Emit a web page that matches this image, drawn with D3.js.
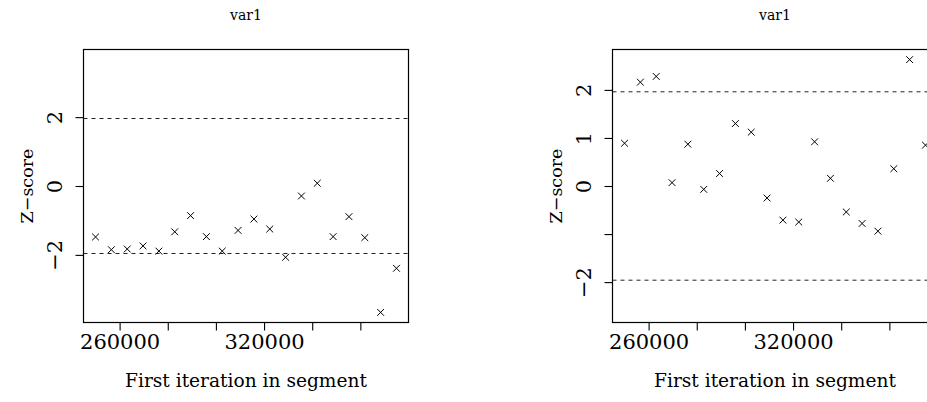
<!DOCTYPE html>
<html>
<head>
<meta charset="utf-8">
<script src="https://cdn.jsdelivr.net/npm/d3@7"></script>
<style>
  body { margin: 0; background: #fff; }
  svg { display: block; }
  text { font-family: "DejaVu Serif", serif; fill: #000; }
</style>
</head>
<body>
<svg id="chart" width="927" height="402"></svg>
<script>
// first iteration of each segment (same for both panels)
var iterations = [250001, 256579, 263158, 269737, 276316, 282895, 289474, 296053, 302632, 309211,
                  315790, 322369, 328948, 335527, 342106, 348685, 355264, 361843, 368422, 375001];
// Z-scores, chain 1 (left) and chain 2 (right)
var zLeft = [-1.48, -1.85, -1.83, -1.74, -1.89, -1.33, -0.86, -1.47, -1.89, -1.29,
             -0.96, -1.25, -2.07, -0.29, 0.08, -1.47, -0.89, -1.50, -3.67, -2.39];
var zRight = [0.89, 2.16, 2.28, 0.07, 0.87, -0.07, 0.26, 1.30, 1.12, -0.25,
              -0.71, -0.75, 0.92, 0.16, -0.54, -0.78, -0.94, 0.36, 2.63, 0.85];
var xTicks = [260000, 280000, 300000, 320000, 340000, 360000];
var xTickLabels = ["260000", "", "", "320000", "", ""];
var yTicksLeft = [-2, 0, 2];
var yTicksRight = [-2, -1, 0, 1, 2];
var yLabelsRight = {"-2": "\u22122", "-1": "", "0": "0", "1": "1", "2": "2"};
var critical = [-1.96, 1.96];
var title = "var1";

var svg = d3.select("#chart");

function drawPanel(z, left, yTicks, yLabel) {
    var top = 49.5, bottom = 322.5, width = 325;
    var lim = d3.max(z, d => Math.abs(d));
    lim = Math.max(lim, 2) * 1.08;

    var x = d3.scaleLinear().domain([245000, 380000]).range([left, left + width]);
    var y = d3.scaleLinear().domain([-lim, lim]).range([bottom, top]);

    var g = svg.append("g");

    // box
    g.append("rect")
        .attr("x", left).attr("y", top)
        .attr("width", width).attr("height", bottom - top)
        .attr("fill", "none").attr("stroke", "#000").attr("stroke-width", 1.2);

    // x axis
    var xa = g.append("g")
        .attr("transform", `translate(0,${bottom})`)
        .call(d3.axisBottom(x).tickValues(xTicks).tickSize(8).tickPadding(4)
            .tickFormat((d, i) => xTickLabels[i]));
    xa.select(".domain").remove();
    xa.selectAll(".tick line").attr("stroke", "#000").attr("stroke-width", 1.1);
    xa.selectAll(".tick text").attr("font-size", 21).attr("font-family", "DejaVu Serif");

    // y axis
    var ya = g.append("g")
        .attr("transform", `translate(${left},0)`)
        .call(d3.axisLeft(y).tickValues(yTicks).tickSize(8).tickFormat(yLabel));
    ya.select(".domain").remove();
    ya.selectAll(".tick line").attr("stroke", "#000").attr("stroke-width", 1.1);
    ya.selectAll(".tick text")
        .attr("font-size", 21).attr("font-family", "DejaVu Serif")
        .attr("text-anchor", "middle")
        .attr("x", null).attr("dy", null)
        .attr("transform", "translate(-22,0) rotate(-90)");

    // critical value lines
    g.selectAll(".crit").data(critical).enter().append("line")
        .attr("x1", left).attr("x2", left + width)
        .attr("y1", d => y(d)).attr("y2", d => y(d))
        .attr("stroke", "#222").attr("stroke-width", 1)
        .attr("stroke-dasharray", "4,4");

    // points (pch = 4 crosses)
    var s = 3.4;
    var pts = g.selectAll(".pt").data(z).enter().append("g")
        .attr("transform", (d, i) => `translate(${x(iterations[i])},${y(d)})`);
    pts.append("line").attr("x1", -s).attr("y1", -s).attr("x2", s).attr("y2", s)
        .attr("stroke", "#000").attr("stroke-width", 1);
    pts.append("line").attr("x1", -s).attr("y1", s).attr("x2", s).attr("y2", -s)
        .attr("stroke", "#000").attr("stroke-width", 1);

    // titles
    g.append("text")
        .attr("x", left + width / 2).attr("y", 20)
        .attr("text-anchor", "middle").attr("font-size", 14)
        .text(title);
    g.append("text")
        .attr("x", left + width / 2).attr("y", 387)
        .attr("text-anchor", "middle").attr("font-size", 18.6)
        .text("First iteration in segment");
    g.append("text")
        .attr("transform", `translate(${left - 51},${(top + bottom) / 2}) rotate(-90)`)
        .attr("text-anchor", "middle").attr("font-size", 17.5)
        .text("Z\u2212score");
}

drawPanel(zLeft, 83.5, yTicksLeft, d => d3.format("")(d).replace("-", "\u2212"));
drawPanel(zRight, 612.5, yTicksRight, d => yLabelsRight[String(d)]);
</script>
</body>
</html>
